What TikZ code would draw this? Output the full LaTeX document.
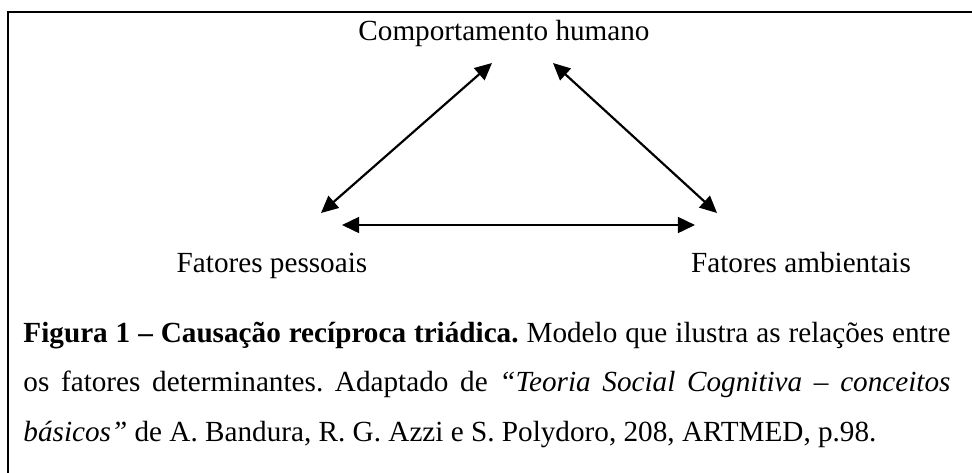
\documentclass[tikz,border=0pt]{standalone}
\usepackage{fontspec}
\setmainfont{Liberation Serif}
\usetikzlibrary{arrows.meta}
\tikzset{
  factor/.style={font=\fontsize{12}{14}\selectfont, inner sep=0pt, anchor=base},
  link/.style={{Triangle[length=7pt,width=6.5pt]}-{Triangle[length=7pt,width=6.5pt]}, line width=0.9pt},
  legend/.style={anchor=base west, inner sep=0pt, text width=381pt, align=justify,
    font=\fontsize{12}{20.5}\selectfont}
}
\frenchspacing
\begin{document}
\begin{tikzpicture}[x=0.411pt,y=-0.411pt]
\useasboundingbox (0,0) rectangle (972,472);
\draw[line width=0.9pt] (8,480)--(8,12)--(980,12);
\node[factor] (hum) at (504,40) {Comportamento humano};
\node[factor] (pes) at (272,272) {Fatores pessoais};
\node[factor] (amb) at (801,272) {Fatores ambientais};
% pontas das setas
\coordinate (hum-l) at (492,63);
\coordinate (hum-r) at (553,63);
\coordinate (pes-t) at (321,213);
\coordinate (pes-r) at (342,225);
\coordinate (amb-t) at (717,213);
\coordinate (amb-l) at (695,225);
\draw[link] (pes-t)--(hum-l);
\draw[link] (hum-r)--(amb-t);
\draw[link] (pes-r)--(amb-l);
\node[legend] (leg) at (23,342) {\textbf{Figura 1 -- Causação recíproca triádica.} Modelo que ilustra as relações entre\linebreak
os fatores determinantes. Adaptado de \emph{“Teoria Social Cognitiva -- conceitos}\linebreak
\emph{básicos”} de A. Bandura, R. G. Azzi e S. Polydoro, 208, ARTMED, p.98.};
\end{tikzpicture}
\end{document}
